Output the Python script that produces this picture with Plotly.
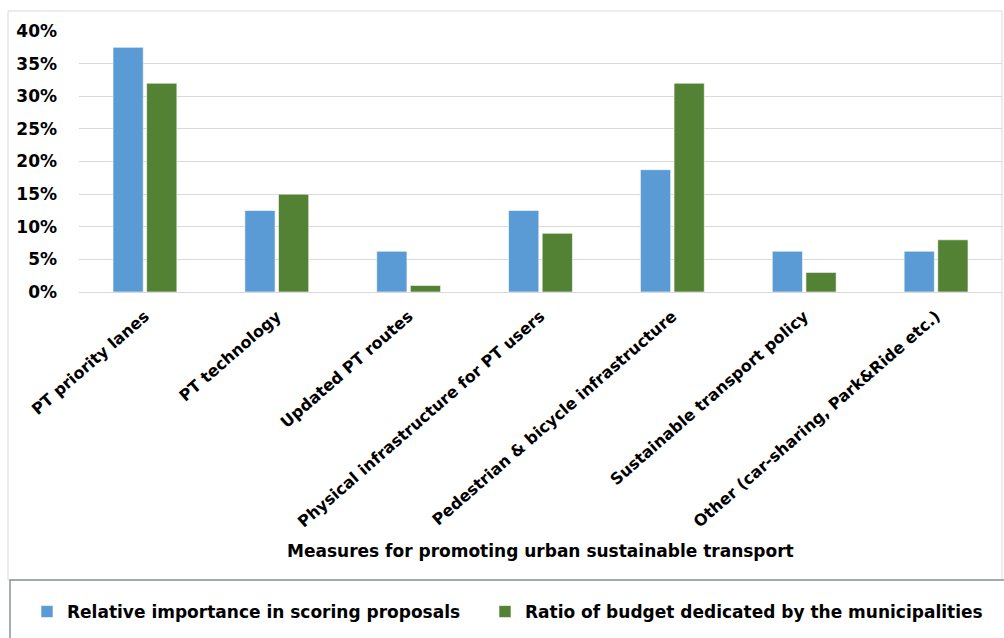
import plotly.graph_objects as go

categories = [
    "PT priority lanes",
    "PT technology",
    "Updated PT routes",
    "Physical infrastructure for PT users",
    "Pedestrian & bicycle infrastructure",
    "Sustainable transport policy",
    "Other (car-sharing, Park&Ride etc.)",
]
relative_importance = [0.375, 0.125, 0.0625, 0.125, 0.1875, 0.0625, 0.0625]
budget_ratio = [0.32, 0.15, 0.01, 0.09, 0.32, 0.03, 0.08]
y_ticks = [0, 0.05, 0.10, 0.15, 0.20, 0.25, 0.30, 0.35, 0.40]
y_tick_labels = ["0%", "5%", "10%", "15%", "20%", "25%", "30%", "35%", "40%"]

FONT = "DejaVu Sans"
BOLD17 = dict(family=FONT, size=17, color="black", weight="bold")
BOLD16 = dict(family=FONT, size=16, color="black", weight="bold")

# plot area in pixels: x 79..1002, y 31..292
def px(x):
    return (x - 79) / 923

def py(y):
    return (292 - y) / 261

fig = go.Figure()
fig.add_trace(go.Bar(
    x=categories, y=relative_importance,
    name="Relative importance in scoring proposals",
    marker=dict(color="#5B9BD5", line=dict(color="rgba(255,255,255,0.6)", width=1)),
    legend="legend",
))
fig.add_trace(go.Bar(
    x=categories, y=budget_ratio,
    name="Ratio of budget dedicated by the municipalities",
    marker=dict(color="#548235", line=dict(color="rgba(255,255,255,0.6)", width=1)),
    legend="legend2",
))

legend_common = dict(
    orientation="h", xanchor="left", y=py(612), yanchor="middle",
    font=BOLD17, bgcolor="rgba(0,0,0,0)", itemwidth=30,
)

fig.update_layout(
    width=1004, height=638,
    margin=dict(l=79, r=2, t=31, b=346, pad=0),
    paper_bgcolor="white", plot_bgcolor="white",
    barmode="group", bargap=0.49, bargroupgap=0.1,
    font=BOLD17,
    showlegend=True,
    legend=dict(x=px(27), **legend_common),
    legend2=dict(x=px(485), **legend_common),
    xaxis=dict(
        tickangle=-41, showgrid=False, showline=False, ticks="",
        tickfont=BOLD16, automargin=False, ticklabelstandoff=11,
    ),
    yaxis=dict(
        range=[0, 0.40], tickvals=y_ticks, ticktext=y_tick_labels,
        showgrid=True, gridcolor="#d9d9d9", gridwidth=1,
        zeroline=True, zerolinecolor="#d9d9d9", zerolinewidth=1,
        showline=False, ticks="", ticklabelstandoff=21,
        tickfont=BOLD17, automargin=False,
    ),
    annotations=[dict(
        text="Measures for promoting urban sustainable transport",
        xref="paper", yref="paper", x=px(540), y=py(551),
        xanchor="center", yanchor="middle", showarrow=False,
        font=BOLD17,
    )],
    shapes=[
        dict(type="rect", xref="paper", yref="paper",
             x0=px(8), x1=px(1002), y0=py(580), y1=py(11),
             line=dict(color="#d9d9d9", width=1), fillcolor="rgba(0,0,0,0)", layer="below"),
        dict(type="rect", xref="paper", yref="paper",
             x0=px(10), x1=px(1010), y0=py(650), y1=py(580),
             line=dict(color="#8c939c", width=1.5), fillcolor="rgba(0,0,0,0)"),
    ],
)

fig.write_html("out.html", config={"displayModeBar": False},
               post_script="document.body.style.margin='0';")
